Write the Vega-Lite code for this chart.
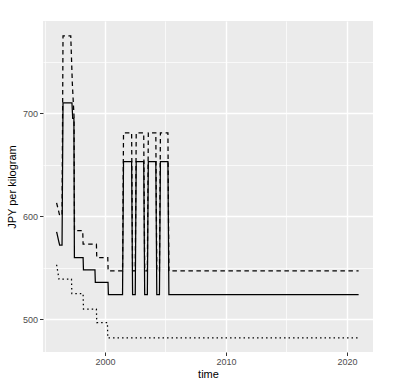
{
  "$schema": "https://vega.github.io/schema/vega-lite/v6.json",
  "width": 330,
  "height": 331,
  "autosize": "none",
  "padding": {"left": 43, "top": 21, "right": 26, "bottom": 37},
  "background": "white",
  "data": {"values": [
    {"series": "A", "time": 1996.0, "price": 585},
    {"series": "A", "time": 1996.25, "price": 572},
    {"series": "A", "time": 1996.45, "price": 572},
    {"series": "A", "time": 1996.53, "price": 710},
    {"series": "A", "time": 1997.27, "price": 710},
    {"series": "A", "time": 1997.33, "price": 695},
    {"series": "A", "time": 1997.43, "price": 695},
    {"series": "A", "time": 1997.47, "price": 560},
    {"series": "A", "time": 1998.19, "price": 560},
    {"series": "A", "time": 1998.22, "price": 548},
    {"series": "A", "time": 1999.17, "price": 548},
    {"series": "A", "time": 1999.2, "price": 536},
    {"series": "A", "time": 2000.25, "price": 536},
    {"series": "A", "time": 2000.28, "price": 524},
    {"series": "A", "time": 2001.45, "price": 524},
    {"series": "A", "time": 2001.53, "price": 653},
    {"series": "A", "time": 2002.2, "price": 653},
    {"series": "A", "time": 2002.28, "price": 524},
    {"series": "A", "time": 2002.5, "price": 524},
    {"series": "A", "time": 2002.58, "price": 653},
    {"series": "A", "time": 2003.2, "price": 653},
    {"series": "A", "time": 2003.28, "price": 524},
    {"series": "A", "time": 2003.5, "price": 524},
    {"series": "A", "time": 2003.58, "price": 653},
    {"series": "A", "time": 2004.2, "price": 653},
    {"series": "A", "time": 2004.28, "price": 524},
    {"series": "A", "time": 2004.5, "price": 524},
    {"series": "A", "time": 2004.58, "price": 653},
    {"series": "A", "time": 2005.2, "price": 653},
    {"series": "A", "time": 2005.28, "price": 524},
    {"series": "A", "time": 2020.96, "price": 524},
    {"series": "B", "time": 1996.0, "price": 613},
    {"series": "B", "time": 1996.25, "price": 601},
    {"series": "B", "time": 1996.45, "price": 601},
    {"series": "B", "time": 1996.53, "price": 775},
    {"series": "B", "time": 1997.17, "price": 775},
    {"series": "B", "time": 1997.3, "price": 729},
    {"series": "B", "time": 1997.44, "price": 697},
    {"series": "B", "time": 1997.48, "price": 586},
    {"series": "B", "time": 1998.16, "price": 586},
    {"series": "B", "time": 1998.19, "price": 573},
    {"series": "B", "time": 1999.29, "price": 573},
    {"series": "B", "time": 1999.32, "price": 560},
    {"series": "B", "time": 2000.23, "price": 560},
    {"series": "B", "time": 2000.26, "price": 547},
    {"series": "B", "time": 2001.45, "price": 547},
    {"series": "B", "time": 2001.53, "price": 681},
    {"series": "B", "time": 2002.2, "price": 681},
    {"series": "B", "time": 2002.28, "price": 547},
    {"series": "B", "time": 2002.5, "price": 547},
    {"series": "B", "time": 2002.58, "price": 681},
    {"series": "B", "time": 2003.2, "price": 681},
    {"series": "B", "time": 2003.28, "price": 547},
    {"series": "B", "time": 2003.5, "price": 547},
    {"series": "B", "time": 2003.58, "price": 681},
    {"series": "B", "time": 2004.2, "price": 681},
    {"series": "B", "time": 2004.28, "price": 547},
    {"series": "B", "time": 2004.5, "price": 547},
    {"series": "B", "time": 2004.58, "price": 681},
    {"series": "B", "time": 2005.2, "price": 681},
    {"series": "B", "time": 2005.28, "price": 547},
    {"series": "B", "time": 2020.96, "price": 547},
    {"series": "C", "time": 1996.0, "price": 553},
    {"series": "C", "time": 1996.2, "price": 539},
    {"series": "C", "time": 1997.23, "price": 539},
    {"series": "C", "time": 1997.26, "price": 525},
    {"series": "C", "time": 1998.19, "price": 525},
    {"series": "C", "time": 1998.22, "price": 510},
    {"series": "C", "time": 1999.29, "price": 510},
    {"series": "C", "time": 1999.32, "price": 497},
    {"series": "C", "time": 2000.2, "price": 497},
    {"series": "C", "time": 2000.23, "price": 482},
    {"series": "C", "time": 2020.96, "price": 482}
  ]},
  "layer": [
    {
      "mark": {"type": "line", "strokeOpacity": 0},
      "encoding": {
        "x": {"field": "time", "type": "quantitative",
          "scale": {"domain": [1994.876, 2022.149], "nice": false, "zero": false},
          "axis": {"orient": "bottom", "values": [1995, 2005, 2015], "grid": true, "gridWidth": 0.7, "labels": false, "ticks": false, "domain": false, "title": null}},
        "y": {"field": "price", "type": "quantitative",
          "scale": {"domain": [468.4, 789.4], "nice": false, "zero": false},
          "axis": {"orient": "left", "values": [550, 650, 750], "grid": true, "gridWidth": 0.7, "labels": false, "ticks": false, "domain": false, "title": null}},
        "detail": {"field": "series"}
      }
    },
    {
      "mark": {"type": "line", "color": "black", "strokeWidth": 1.25, "strokeCap": "butt"},
      "encoding": {
        "x": {"field": "time", "type": "quantitative",
          "axis": {"orient": "bottom", "values": [2000, 2010, 2020], "format": "d", "grid": true, "gridWidth": 1.4, "title": "time", "labelPadding": 2, "titlePadding": 2}},
        "y": {"field": "price", "type": "quantitative",
          "axis": {"orient": "left", "values": [500, 600, 700], "format": "d", "grid": true, "gridWidth": 1.4, "title": "JPY per kilogram", "labelPadding": 2, "titlePadding": 5}},
        "strokeDash": {"field": "series", "type": "nominal",
          "scale": {"domain": ["A", "B", "C"], "range": [[1, 0], [4.5, 3.5], [1.5, 3]]},
          "legend": null}
      }
    }
  ],
  "resolve": {"axis": {"x": "independent", "y": "independent"}},
  "config": {
    "view": {"fill": "#EBEBEB", "stroke": null},
    "axis": {
      "domain": false,
      "gridColor": "#FFFFFF",
      "gridOpacity": 1,
      "tickColor": "#333333",
      "tickSize": 3.5,
      "tickWidth": 1,
      "labelColor": "#4D4D4D",
      "labelFontSize": 9,
      "labelFont": "Liberation Sans",
      "titleFont": "Liberation Sans",
      "titleFontSize": 11,
      "titleFontWeight": "normal",
      "titleColor": "#000000"
    }
  }
}
